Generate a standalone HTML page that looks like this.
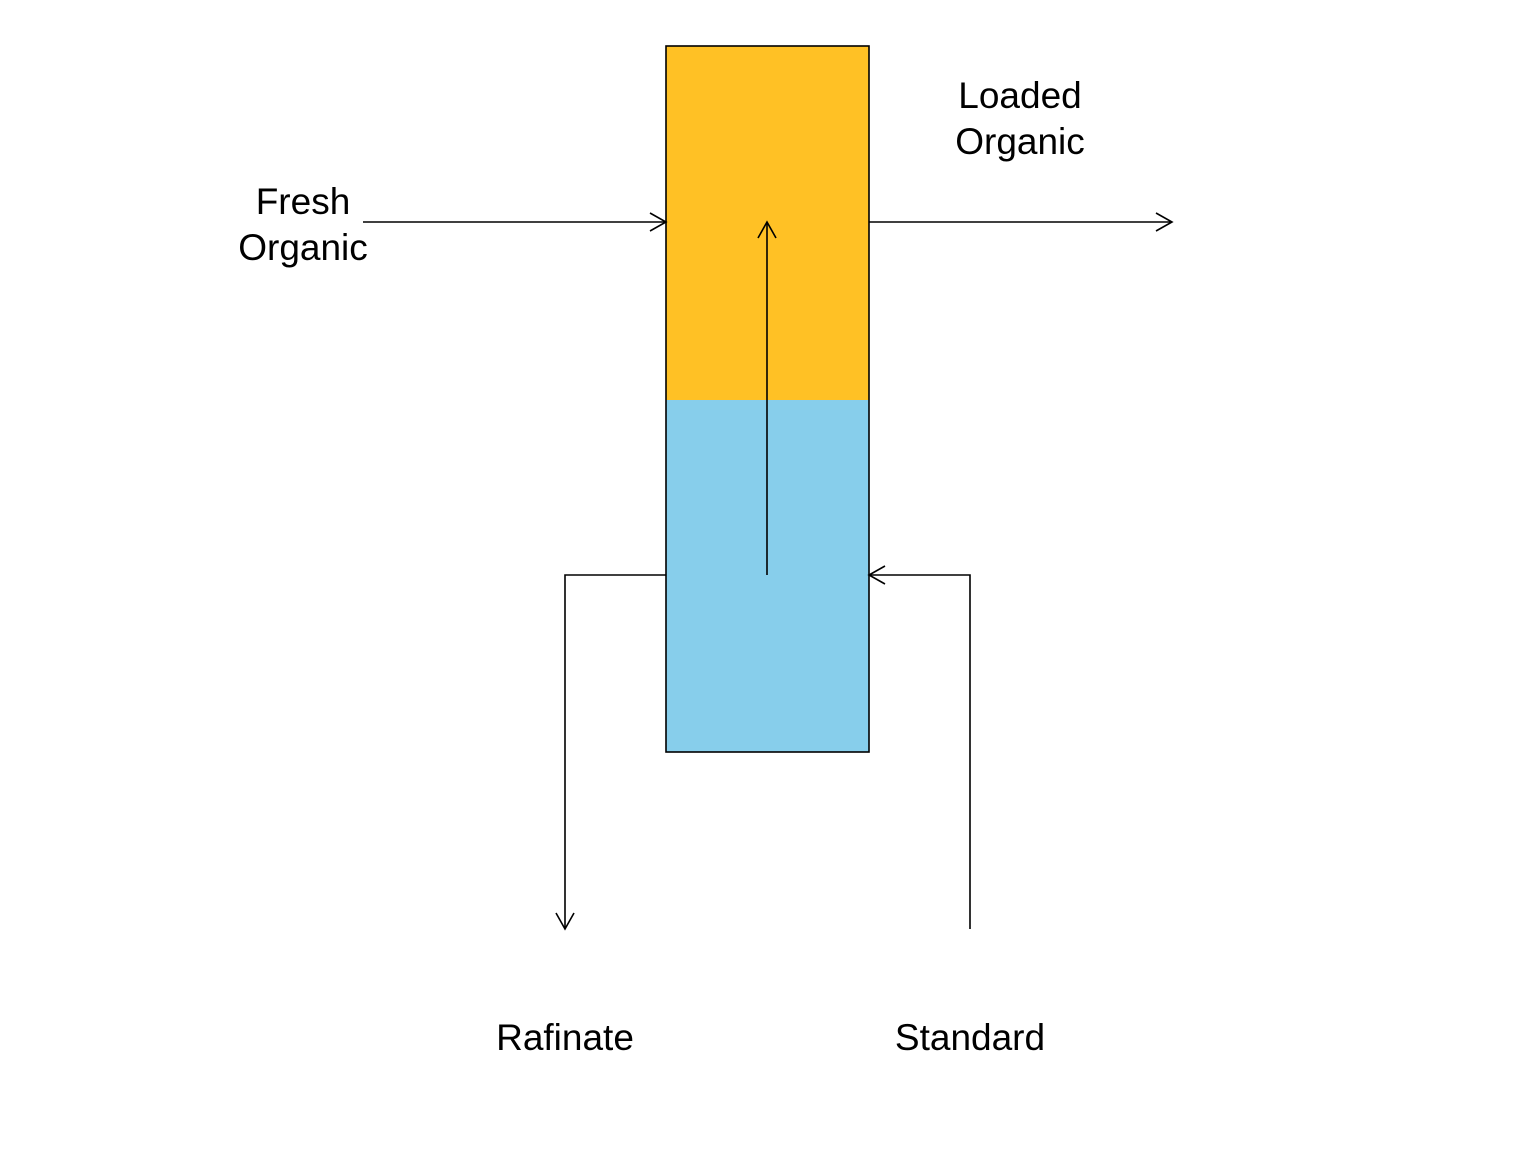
<!DOCTYPE html>
<html>
<head>
<meta charset="utf-8">
<style>
  html, body { margin:0; padding:0; background:#fff; }
  svg { display:block; }
  text { font-family: "Liberation Sans", Arial, sans-serif; font-size:37px; fill:#000; }
</style>
</head>
<body>
<svg width="1536" height="1152" viewBox="0 0 1536 1152" xmlns="http://www.w3.org/2000/svg">
  <rect x="0" y="0" width="1536" height="1152" fill="#fff"/>
  <rect x="666" y="46" width="203" height="354" fill="#FFC125"/>
  <rect x="666" y="400" width="203" height="352" fill="#87CEEB"/>
  <rect x="666" y="46" width="203" height="706" fill="none" stroke="#000" stroke-width="1.6"/>

  <g fill="none" stroke="#000" stroke-width="1.6">
    <!-- Fresh organic in -->
    <path d="M363 222 H666"/>
    <path d="M650 213 L666 222 L650 231"/>
    <!-- Loaded organic out -->
    <path d="M869 222 H1172"/>
    <path d="M1156 213 L1172 222 L1156 231"/>
    <!-- Internal upward flow -->
    <path d="M767 575 V222"/>
    <path d="M758 238 L767 222 L776 238"/>
    <!-- Rafinate out -->
    <path d="M666 575 H565 V929"/>
    <path d="M556 913 L565 929 L574 913"/>
    <!-- Standard in -->
    <path d="M970 929 V575 H869"/>
    <path d="M885 566 L869 575 L885 584"/>
  </g>

  <text x="303" y="214" text-anchor="middle">Fresh</text>
  <text x="303" y="260" text-anchor="middle">Organic</text>
  <text x="1020" y="108" text-anchor="middle">Loaded</text>
  <text x="1020" y="154" text-anchor="middle">Organic</text>
  <text x="565" y="1050" text-anchor="middle">Rafinate</text>
  <text x="970" y="1050" text-anchor="middle">Standard</text>
</svg>
</body>
</html>
